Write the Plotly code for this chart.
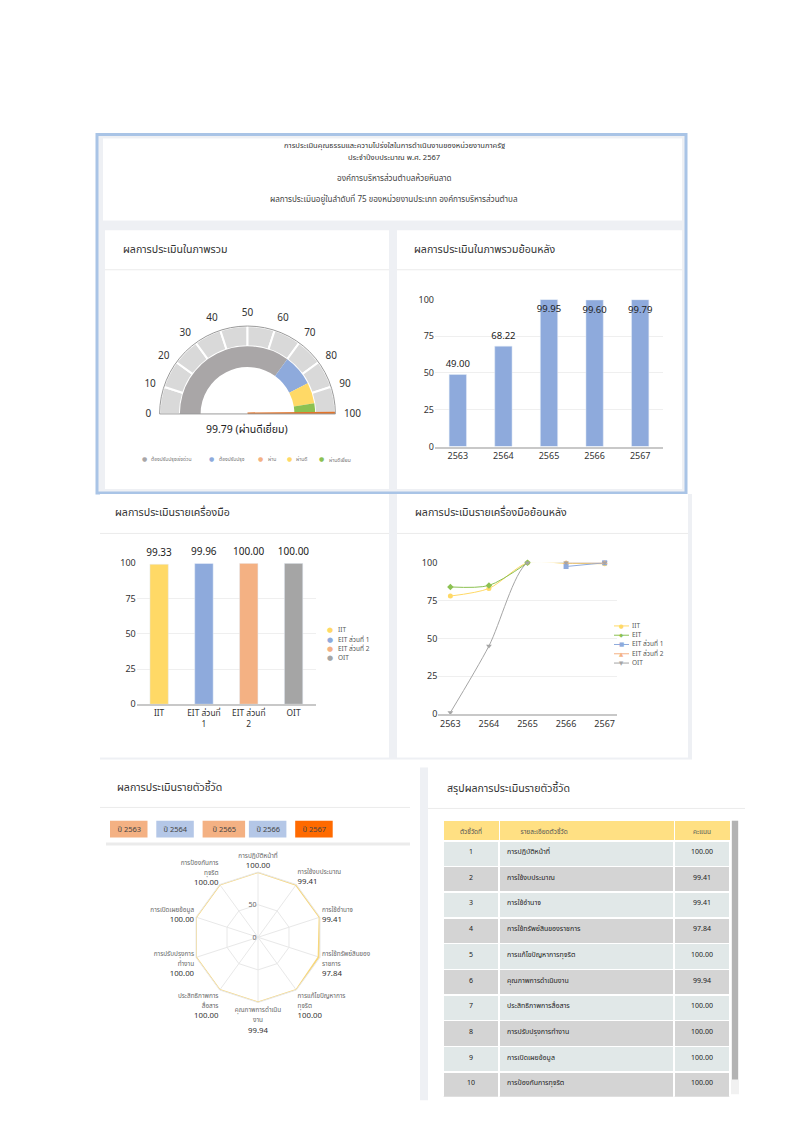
import plotly.graph_objects as go

# page body has an 8px margin around the plot div
OFF = 8
W, H = 800 - 2 * OFF, 1131 - 2 * OFF
def px(x): return (x - OFF) / W
def py(y): return 1 - (y - OFF) / H

FONT = "Noto Sans Thai, Noto Sans, DejaVu Sans, sans-serif"

# ---------------- data ----------------
header_lines = [
    "การประเมินคุณธรรมและความโปร่งใสในการดำเนินงานของหน่วยงานภาครัฐ",
    "ประจำปีงบประมาณ พ.ศ. 2567",
    "องค์การบริหารส่วนตำบลห้วยหินลาด",
    "ผลการประเมินอยู่ในลำดับที่ 75 ของหน่วยงานประเภท องค์การบริหารส่วนตำบล",
]
panel_titles = [
    "ผลการประเมินในภาพรวม",
    "ผลการประเมินในภาพรวมย้อนหลัง",
    "ผลการประเมินรายเครื่องมือ",
    "ผลการประเมินรายเครื่องมือย้อนหลัง",
    "ผลการประเมินรายตัวชี้วัด",
    "สรุปผลการประเมินรายตัวชี้วัด",
]

gauge_value = 99.79
gauge_grade = "ผ่านดีเยี่ยม"
gauge_ticks = [0, 10, 20, 30, 40, 50, 60, 70, 80, 90, 100]
band_names = ["ต้องปรับปรุงเร่งด่วน", "ต้องปรับปรุง", "ผ่าน", "ผ่านดี", "ผ่านดีเยี่ยม"]
band_start = [0, 70, 85, 85, 95]
band_end = [70, 85, 85, 95, 100]
band_colors = ["#a9a6a7", "#8eaadc", "#f4b183", "#ffd966", "#8cc152"]

years = ["2563", "2564", "2565", "2566", "2567"]
overall_scores = [49.00, 68.22, 99.95, 99.60, 99.79]

tools = ["IIT", "EIT ส่วนที่ 1", "EIT ส่วนที่ 2", "OIT"]
tool_ticktext = ["IIT", "EIT ส่วนที่<br>1", "EIT ส่วนที่<br>2", "OIT"]
tool_scores = [99.33, 99.96, 100.00, 100.00]
tool_colors = ["#ffd966", "#8eaadc", "#f4b183", "#a5a5a5"]

trend_names = ["IIT", "EIT", "EIT ส่วนที่ 1", "EIT ส่วนที่ 2", "OIT"]
trend_iit = [78, 83, 100, 99.6, 99.33]
trend_eit = [84, 85, 100, None, None]
trend_eit1 = [None, None, None, 97.5, 99.96]
trend_eit2 = [None, None, None, 100, 100]
trend_oit = [1, 45, 100, 100, 100]
trend_colors = ["#ffd966", "#8cc152", "#8eaadc", "#f4b183", "#a5a5a5"]
trend_symbols = ["circle", "diamond", "square", "triangle-up", "triangle-down"]
trend_glyphs = ["●", "◆", "■", "▲", "▼"]

indicators = ["การปฏิบัติหน้าที่", "การใช้งบประมาณ", "การใช้อำนาจ", "การใช้ทรัพย์สินของราชการ",
              "การแก้ไขปัญหาการทุจริต", "คุณภาพการดำเนินงาน", "ประสิทธิภาพการสื่อสาร",
              "การปรับปรุงการทำงาน", "การเปิดเผยข้อมูล", "การป้องกันการทุจริต"]
indicator_wrapped = ["การปฏิบัติหน้าที่", "การใช้งบประมาณ", "การใช้อำนาจ", "การใช้ทรัพย์สินของ<br>ราชการ",
                     "การแก้ไขปัญหาการ<br>ทุจริต", "คุณภาพการดำเนิน<br>งาน", "ประสิทธิภาพการ<br>สื่อสาร",
                     "การปรับปรุงการ<br>ทำงาน", "การเปิดเผยข้อมูล", "การป้องกันการ<br>ทุจริต"]
indicator_scores = [100.00, 99.41, 99.41, 97.84, 100.00, 99.94, 100.00, 100.00, 100.00, 100.00]

button_years = ["2563", "2564", "2565", "2566", "2567"]
button_colors = ["#f4b183", "#b4c7e7", "#f4b183", "#b4c7e7", "#ff6a00"]

# ---------------- figure ----------------
fig = go.Figure()
shapes = []
ann = []

def rect(x0, y0, x1, y1, fill, line=None, lw=0, layer="below"):
    shapes.append(dict(type="rect", xref="paper", yref="paper", x0=px(x0), x1=px(x1),
                       y0=py(y1), y1=py(y0), fillcolor=fill,
                       line=dict(color=line or fill, width=lw), layer=layer))

def hline(x0, x1, y, color="#ebebeb", w=1):
    shapes.append(dict(type="line", xref="paper", yref="paper", x0=px(x0), x1=px(x1),
                       y0=py(y), y1=py(y), line=dict(color=color, width=w), layer="below"))

def text(x, y, s, size=8, color="#333", xanchor="left", yanchor="middle", **kw):
    ann.append(dict(xref="paper", yref="paper", x=px(x), y=py(y), text=s, showarrow=False,
                    xanchor=xanchor, yanchor=yanchor, font=dict(size=size, color=color, family=FONT), **kw))

# backgrounds
rect(97, 129, 686, 492, "#eef0f4", "#a9c4e6", 3)
rect(103, 133, 682, 216, "#ffffff")
rect(105, 226, 389, 488, "#ffffff")
rect(397, 226, 682, 488, "#ffffff")
rect(100, 493, 692, 762, "#eef0f4")
rect(100, 493, 389, 760, "#ffffff")
rect(397, 493, 688, 760, "#ffffff")
rect(420, 770, 428, 1107, "#eef0f4")
rect(106, 846, 410, 849, "#ebebeb")
# scrollbar for table
rect(731, 824, 739, 1101, "#f1f1f1")
rect(732, 824, 738, 1086, "#b3b3b3")

# separators
hline(105, 389, 266)
hline(397, 682, 266)
hline(100, 389, 533)
hline(397, 688, 533)
hline(100, 410, 810.5)
hline(428, 745, 811.5)

# header
text(394, 140, header_lines[0], 7.6, "#333", "center")
text(394, 152, header_lines[1], 7.6, "#333", "center")
text(394, 174, header_lines[2], 8.1, "#444", "center")
text(394, 195, header_lines[3], 8.1, "#444", "center")

# panel titles
for (x, y), t in zip([(121, 246), (412, 246), (113, 512), (413, 512), (115, 791), (445, 792)], panel_titles):
    text(x, y, t, 10.6, "#333")

# ---------- gauge (polar) ----------
def g_theta(v):
    return 180 - 1.8 * v

outer_mid = [g_theta((a + b) / 2) for a, b in zip(gauge_ticks[:-1], gauge_ticks[1:])]
fig.add_trace(go.Barpolar(theta=outer_mid, r=[20.5] * len(outer_mid), base=68.5,
                          width=[18] * len(outer_mid), marker=dict(color="#d9d9d9", line=dict(color="white", width=2)),
                          subplot="polar", showlegend=False, hoverinfo="skip"))
for s, e, c in zip(band_start, band_end, band_colors):
    if e > s:
        fig.add_trace(go.Barpolar(theta=[g_theta((s + e) / 2)], r=[21], base=47.5, width=[1.8 * (e - s)],
                                  marker=dict(color=c, line=dict(width=0)), subplot="polar",
                                  showlegend=False, hoverinfo="skip"))
fig.add_trace(go.Scatterpolar(r=[0, 89], theta=[g_theta(gauge_value)] * 2, mode="lines",
                              line=dict(color="#e2742a", width=3), subplot="polar", showlegend=False))
text(247, 428, f"{gauge_value:.2f} ({gauge_grade})", 10.5, "#222", "center")
# gauge legend
leg_x = [144, 211.7, 260.7, 289, 321.7]
for x, n, c in zip(leg_x, band_names, band_colors):
    text(x, 458, "●", 6, c, "center")
    text(x + 5, 458.5, n, 5, "#777")

# ---------- overall history bars ----------
fig.add_trace(go.Bar(x=years, y=overall_scores, marker_color="#8eaadc", width=0.38,
                     text=[f"{v:.2f}" for v in overall_scores],
                     textposition=["inside" if v > 90 else "outside" for v in overall_scores],
                     insidetextanchor="end", constraintext="none", textangle=0, cliponaxis=False,
                     textfont=dict(size=9.5, color="#222", family=FONT),
                     xaxis="x", yaxis="y", showlegend=False))

# ---------- tool bars ----------
fig.add_trace(go.Bar(x=tools, y=tool_scores, marker_color=tool_colors, width=0.41,
                     text=[f"{v:.2f}" for v in tool_scores], textposition="outside", cliponaxis=False,
                     constraintext="none", textangle=0,
                     textfont=dict(size=10, color="#222", family=FONT),
                     xaxis="x2", yaxis="y2", showlegend=False))
for i, (n, c) in enumerate(zip(tools, tool_colors)):
    y = 631 + i * 9.45
    text(330, y, "●", 7, c, "center")
    text(335.5, y, n, 6.5, "#555")

# ---------- tool trend lines ----------
for n, vals, c, sym in zip(trend_names, [trend_iit, trend_eit, trend_eit1, trend_eit2, trend_oit],
                           trend_colors, trend_symbols):
    fig.add_trace(go.Scatter(x=years, y=vals, name=n, mode="lines+markers",
                             line=dict(color=c, width=1, shape="spline", smoothing=0.8),
                             marker=dict(symbol=sym, size=5, color=c), cliponaxis=False,
                             xaxis="x3", yaxis="y3", showlegend=False))
for i, (n, c, g) in enumerate(zip(trend_names, trend_colors, trend_glyphs)):
    y = 626.7 + i * 9.4
    hline(614, 629, y, c, 1)
    text(621.5, y, g, 5.5, c, "center")
    text(630, y, n, 6.5, "#555")

# ---------- radar ----------
rad_c = (258, 942)
rad_r = 66
fig.add_trace(go.Scatterpolar(r=indicator_scores + indicator_scores[:1], theta=indicators + indicators[:1],
                              mode="lines", line=dict(color="#f7d77c", width=2), subplot="polar2",
                              showlegend=False))
radar_ticktext = ["<br>".join(f"<span style='font-size:6.4px;color:#666'>{part}</span>" for part in w.split("<br>"))
                  + f"<br><span style='color:#333'>{v:.2f}</span>"
                  for w, v in zip(indicator_wrapped, indicator_scores)]

# buttons
for i, (yr, c) in enumerate(zip(button_years, button_colors)):
    x0 = 110 + i * 46.3
    rect(x0, 824, x0 + 37.5 + (5 if i == 2 else 0), 841, c, None, 0, "above")
    text(x0 + 19 + (2 if i == 2 else 0), 832.5, f"ปี {yr}", 7.5, "#444", "center")

# ---------- table ----------
row_fill = ["#e1e8e8" if i % 2 == 0 else "#d4d4d4" for i in range(len(indicators))]
fig.add_trace(go.Table(
    domain=dict(x=[px(443), px(730)], y=[py(1104), py(824)]),
    columnwidth=[56, 175, 56],
    header=dict(values=["ตัวชี้วัดที่", "        รายละเอียดตัวชี้วัด", "คะแนน"], fill_color="#ffe083",
                align=["center", "left", "center"], font=dict(size=6.5, color="#555", family=FONT),
                height=20, line=dict(color="white", width=1)),
    cells=dict(values=[[str(i + 1) for i in range(len(indicators))], indicators,
                       [f"{v:.2f}" for v in indicator_scores]],
               fill_color=[row_fill] * 3, align=["center", "left", "center"],
               font=dict(size=7, color="#222", family=FONT), height=25.7,
               line=dict(color="white", width=1.5))))

axis_font = dict(size=9, color="#333", family=FONT)
def yax(y0, y1, anchor):
    return dict(domain=[py(y1), py(y0)], range=[0, 100], tickvals=[0, 25, 50, 75, 100],
                showgrid=True, gridcolor="#efefef", zeroline=False, showline=False,
                tickfont=axis_font, anchor=anchor, fixedrange=True, ticks="", ticklen=4)
def xax(x0, x1, anchor):
    return dict(domain=[px(x0), px(x1)], type="category", showline=True, linecolor="#c8c8c8",
                linewidth=1.5, showgrid=False, tickfont=axis_font, anchor=anchor, ticks="")

fig.update_layout(
    width=W, height=H, margin=dict(l=0, r=0, t=0, b=0),
    paper_bgcolor="white", plot_bgcolor="rgba(0,0,0,0)",
    font=dict(family=FONT, color="#333"),
    shapes=shapes, annotations=ann, bargap=0.6,
    xaxis=xax(435, 663, "y"), yaxis=yax(296, 445, "x"),
    xaxis2=dict(xax(136.7, 316, "y2"), tickvals=tools, ticktext=tool_ticktext,
                tickfont=dict(size=8.4, color="#333", family=FONT)),
    yaxis2=yax(563.3, 706, "x2"),
    xaxis3=xax(438.3, 616.7, "y3"), yaxis3=yax(562.7, 716, "x3"),
    polar=dict(domain=dict(x=[px(158.5), px(336.5)], y=[py(412), py(323)]), sector=[0, 180],
               bgcolor="rgba(0,0,0,0)", hole=0,
               radialaxis=dict(visible=False, range=[0, 89]),
               angularaxis=dict(direction="counterclockwise", rotation=0, tickmode="array",
                                tickvals=[g_theta(t) for t in gauge_ticks], ticktext=[str(t) for t in gauge_ticks],
                                showgrid=False, showline=True, linecolor="#9a9a9a", linewidth=1,
                                ticks="outside", ticklen=6, tickcolor="rgba(0,0,0,0)",
                                tickfont=dict(size=10, color="#333", family=FONT))),
    polar2=dict(domain=dict(x=[px(rad_c[0] - rad_r), px(rad_c[0] + rad_r)],
                            y=[py(rad_c[1] + rad_r), py(rad_c[1] - rad_r)]),
                gridshape="linear", bgcolor="rgba(0,0,0,0)",
                radialaxis=dict(range=[0, 100], tickvals=[0, 50], angle=90, tickangle=90, showline=False,
                                side="counterclockwise",
                                gridcolor="#e8e8e8", tickfont=dict(size=7, color="#666", family=FONT), ticks=""),
                angularaxis=dict(direction="clockwise", rotation=90, tickmode="array", tickvals=indicators,
                                 ticktext=radar_ticktext, gridcolor="#e8e8e8", linecolor="#e8e8e8", ticks="",
                                 tickfont=dict(size=7.8, color="#333", family=FONT))),
)

fig.write_html("out.html")
